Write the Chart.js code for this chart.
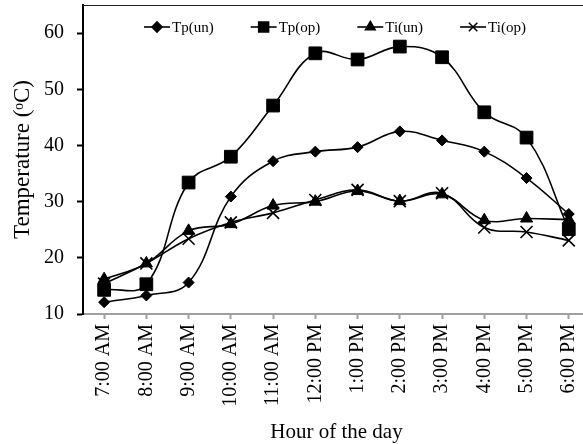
<!DOCTYPE html>
<html>
<head>
<meta charset="utf-8">
<script src="https://cdn.jsdelivr.net/npm/chart.js@4.4.1/dist/chart.umd.min.js"></script>
<style>
  html, body { margin: 0; padding: 0; background: #fff; overflow: hidden; }
  /* the y scale keeps some room above its top tick; pull the canvas up so the frame sits near the top edge */
  #wrap { position: relative; width: 600px; height: 464px; margin-top: -20px; }
</style>
</head>
<body>
<div id="wrap"><canvas id="chart"></canvas></div>
<script>
var hours = ['7:00 AM', '8:00 AM', '9:00 AM', '10:00 AM', '11:00 AM', '12:00 PM',
  '1:00 PM', '2:00 PM', '3:00 PM', '4:00 PM', '5:00 PM', '6:00 PM'];
var tpUn = [12.1, 13.3, 15.6, 30.9, 37.2, 38.9, 39.7, 42.5, 40.9, 38.9, 34.2, 27.8];
var tpOp = [14.3, 15.3, 33.4, 38.0, 47.1, 56.4, 55.3, 57.6, 55.7, 45.9, 41.4, 25.1];
var tiUn = [16.2, 19.0, 24.8, 26.0, 29.3, 30.0, 31.9, 30.1, 31.3, 26.7, 27.0, 26.8];
var tiOp = [15.4, 19.0, 23.4, 26.3, 28.0, 30.3, 32.1, 30.1, 31.5, 25.4, 24.6, 23.1];
var yTicks = [10, 20, 30, 40, 50, 60];

var FONT = "'Liberation Serif', 'Times New Roman', serif";

function line(label, data, style, radius) {
  return {
    label: label,
    data: data,
    borderColor: '#000',
    backgroundColor: '#000',
    borderWidth: 1.6,
    tension: 0.4,
    pointStyle: style,
    pointRadius: radius,
    pointHoverRadius: radius,
    pointBorderWidth: style === 'crossRot' ? 1.6 : 1,
    pointBackgroundColor: '#000',
    pointBorderColor: '#000'
  };
}

// legend drawn inside the plot, line + marker like the spreadsheet legend
var legendPlugin = {
  id: 'innerLegend',
  afterDatasetsDraw: function (chart) {
    var ctx = chart.ctx;
    var a = chart.chartArea;
    var x = a.left + 61;
    var y = a.top + 22;
    var sizes = { rectRot: 5, rect: 7, triangle: 5.5, crossRot: 6 };
    ctx.save();
    ctx.font = '15px ' + FONT;
    ctx.textBaseline = 'middle';
    chart.data.datasets.forEach(function (ds) {
      ctx.strokeStyle = '#000';
      ctx.fillStyle = '#000';
      ctx.lineWidth = 1.6;
      ctx.beginPath();
      ctx.moveTo(x, y);
      ctx.lineTo(x + 26, y);
      ctx.stroke();
      Chart.helpers.drawPoint(ctx, {
        pointStyle: ds.pointStyle,
        radius: sizes[ds.pointStyle],
        rotation: 0,
        borderWidth: ds.pointBorderWidth
      }, x + 13, y);
      ctx.fillStyle = '#000';
      ctx.fillText(ds.label, x + 28, y + 1);
      x += 28 + ctx.measureText(ds.label).width + 37;
    });
    ctx.restore();
  }
};

var framePlugin = {
  id: 'topFrame',
  afterDraw: function (chart) {
    var a = chart.chartArea;
    var ctx = chart.ctx;
    ctx.save();
    ctx.strokeStyle = '#222';
    ctx.lineWidth = 1;
    ctx.beginPath();
    ctx.moveTo(a.left, a.top + 0.5);
    ctx.lineTo(a.right, a.top + 0.5);
    ctx.stroke();
    ctx.restore();
  }
};

new Chart(document.getElementById('chart').getContext('2d'), {
  type: 'line',
  data: {
    labels: hours,
    datasets: [
      line('Tp(un)', tpUn, 'rectRot', 5.5),
      line('Tp(op)', tpOp, 'rect', 9),
      line('Ti(un)', tiUn, 'triangle', 7),
      line('Ti(op)', tiOp, 'crossRot', 8.5)
    ]
  },
  plugins: [legendPlugin, framePlugin],
  options: {
    responsive: true,
    maintainAspectRatio: false,
    animation: false,
    layout: { padding: { top: 0, right: 9, left: -4, bottom: -2 } },
    plugins: {
      legend: { display: false },
      tooltip: { enabled: false }
    },
    scales: {
      x: {
        offset: true,
        grid: {
          display: true,
          drawOnChartArea: false,
          offset: false,
          tickLength: 5,
          tickWidth: 2,
          tickColor: '#a0a0a0'
        },
        border: { display: true, color: '#a0a0a0', width: 2 },
        ticks: {
          autoSkip: false,
          minRotation: 90,
          maxRotation: 90,
          padding: 5,
          color: '#000',
          font: { family: FONT, size: 20 }
        },
        title: {
          display: true,
          text: 'Hour of the day',
          color: '#000',
          font: { family: FONT, size: 21 },
          padding: { top: 8, bottom: 1 }
        }
      },
      y: {
        min: 10,
        max: 65,
        ticks: {
          stepSize: 10,
          padding: 13,
          color: '#000',
          font: { family: FONT, size: 20 },
          callback: function (v) { return yTicks.indexOf(v) >= 0 ? String(v) : null; }
        },
        grid: {
          display: true,
          drawOnChartArea: false,
          tickLength: 6,
          tickWidth: 2,
          tickColor: '#000'
        },
        border: { display: true, color: '#000', width: 2 },
        title: {
          display: true,
          text: 'Temperature (\u1D52C)',
          color: '#000',
          font: { family: FONT, size: 23 },
          padding: { top: 13, bottom: -5.6 }
        }
      }
    }
  }
});
</script>
</body>
</html>
